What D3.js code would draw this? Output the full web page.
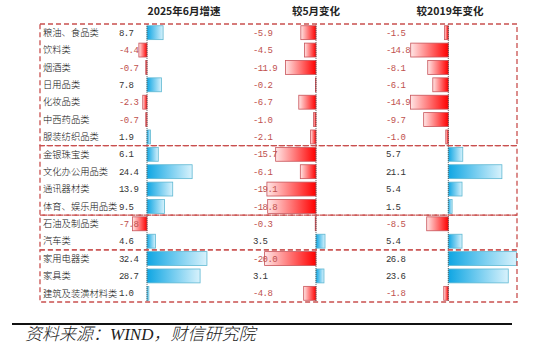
<!DOCTYPE html>
<html><head><meta charset="utf-8">
<script src="https://cdn.jsdelivr.net/npm/d3@7/dist/d3.min.js"></script>
<style>body{margin:0;background:#fff}svg{display:block}</style>
</head><body>
<script>
const categories = ["粮油、食品类","饮料类","烟酒类","日用品类","化妆品类","中西药品类","服装纺织品类","金银珠宝类","文化办公用品类","通讯器材类","体育、娱乐用品类","石油及制品类","汽车类","家用电器类","家具类","建筑及装潢材料类"];
const june2025 = [8.7,-4.4,-0.7,7.8,-2.3,-0.7,1.9,6.1,24.4,13.9,9.5,-7.8,4.6,32.4,28.7,1.0];
const vsMay = [-5.9,-4.5,-11.9,-0.2,-6.7,-1.0,-2.1,-15.7,-6.1,-19.1,-18.8,-0.3,3.5,-20.0,3.1,-4.8];
const vs2019 = [-1.5,-14.8,-8.1,-6.1,-14.9,-9.7,-1.0,5.7,21.1,5.4,1.5,-8.5,5.4,26.8,23.6,-1.8];
const panelTitles = ["2025年6月增速","较5月变化","较2019年变化"];
const groupSizes = [7,4,2,3];
const source = "资料来源：WIND，财信研究院";

(function(){
const W=554,H=357;
const svg=d3.select("body").append("svg").attr("width",W).attr("height",H);
const defs=svg.append("defs");
const gp=defs.append("linearGradient").attr("id","gPos").attr("x1","0").attr("x2","1").attr("y1","0").attr("y2","0");
gp.append("stop").attr("offset","0").attr("stop-color","#0fa6e3");
gp.append("stop").attr("offset","1").attr("stop-color","#d8f2fc");
const gn=defs.append("linearGradient").attr("id","gNeg").attr("x1","0").attr("x2","1").attr("y1","0").attr("y2","0");
gn.append("stop").attr("offset","0").attr("stop-color","#ffe6e6");
gn.append("stop").attr("offset","1").attr("stop-color","#ff0000");

const yTop=24,yBottom=302,xLeft=40,xRight=517;
const rowStep=(yBottom-yTop)/categories.length;
const yRow=d3.scaleLinear().domain([0,categories.length]).range([yTop,yBottom]);

const panels=[
 {data:june2025,x:d3.scaleLinear().domain([-5,35]).range([147-9.25,147+64.75]),tx:119,title:panelTitles[0],cx:184},
 {data:vsMay,x:d3.scaleLinear().domain([-25,5]).range([316-64.25,316+12.85]),tx:253,title:panelTitles[1],cx:316},
 {data:vs2019,x:d3.scaleLinear().domain([-20,30]).range([448.3-50.8,448.3+76.2]),tx:386,title:panelTitles[2],cx:450}
];

svg.append("g").selectAll("text").data(categories).join("text")
 .attr("x",43).attr("y",(d,i)=>yRow(i+0.5)).attr("dy","0.35em")
 .attr("font-family","Noto Sans CJK SC").attr("font-weight",300).attr("font-size",9.3).attr("fill","#111").text(d=>d);

panels.forEach(p=>{
 svg.append("text").attr("x",p.cx).attr("y",15).attr("text-anchor","middle")
  .attr("font-family","Noto Sans CJK SC").attr("font-weight",700).attr("font-size",10.5).attr("fill","#222").text(p.title);
 const g=svg.append("g");
 g.selectAll("rect").data(p.data).join("rect")
  .attr("x",d=>p.x(Math.min(0,d))).attr("width",d=>Math.abs(p.x(d)-p.x(0)))
  .attr("y",(d,i)=>yRow(i)+rowStep*0.1).attr("height",rowStep*0.8)
  .attr("fill",d=>d>=0?"url(#gPos)":"url(#gNeg)")
  .attr("stroke",d=>d>=0?"#5fb8d2":"#c8545a").attr("stroke-width",0.8);
 g.append("line").attr("x1",p.x(0)).attr("x2",p.x(0)).attr("y1",yTop).attr("y2",yBottom)
  .attr("stroke","#444").attr("stroke-width",0.8).attr("stroke-dasharray","1,1");
 g.selectAll("text").data(p.data).join("text")
  .attr("x",p.tx).attr("y",(d,i)=>yRow(i+0.5)).attr("dy","0.35em")
  .attr("font-family","Liberation Mono").attr("font-size",9).attr("letter-spacing",-0.6)
  .attr("fill",d=>d<0?"#c0504d":"#333").text(d=>d.toFixed(1));
});

let start=0;
groupSizes.forEach(n=>{
 svg.append("rect").attr("x",xLeft).attr("y",yRow(start)).attr("width",xRight-xLeft).attr("height",yRow(start+n)-yRow(start))
  .attr("fill","none").attr("stroke","#c9504f").attr("stroke-width",1.3).attr("stroke-dasharray","5,3");
 start+=n;
});

svg.append("line").attr("x1",12).attr("x2",512).attr("y1",324).attr("y2",324).attr("stroke","#111").attr("stroke-width",2);
svg.append("text").attr("x",25).attr("y",340).attr("font-family","Liberation Serif, Noto Sans CJK SC").attr("font-style","italic")
 .attr("font-weight",300).attr("font-size",17).attr("fill","#222").text(source);
})();
</script>
</body></html>
